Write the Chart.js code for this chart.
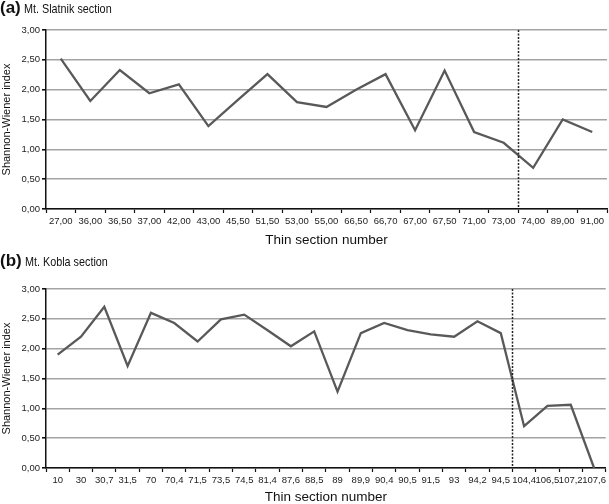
<!DOCTYPE html>
<html>
<head>
<meta charset="utf-8">
<script src="https://cdn.jsdelivr.net/npm/chart.js@4/dist/chart.umd.min.js"></script>
<style>
  html, body { margin: 0; padding: 0; background: #fff; }
  body { width: 609px; height: 504px; position: relative; overflow: hidden; font-family: "Liberation Sans", Arial, sans-serif; }
  .panel { position: absolute; left: 0; width: 609px; height: 252px; }
  .panel canvas { display: block; }
  .head { position: absolute; left: 0; white-space: nowrap; color: #111; }
  .head b { font-size: 17px; font-weight: bold; }
  .head span { font-size: 13.5px; display: inline-block; transform: scaleX(0.8); transform-origin: left center; margin-left: 3px; }
</style>
</head>
<body>
<div class="panel" style="top:0"><canvas id="chartA" width="609" height="252"></canvas></div>
<div class="panel" style="top:252px"><canvas id="chartB" width="609" height="252"></canvas></div>
<div class="head" style="top:-2px"><b>(a)</b><span>Mt. Slatnik section</span></div>
<div class="head" style="top:251px"><b>(b)</b><span>Mt. Kobla section</span></div>

<script>
// ---- data ----
const catsA = ["27,00", "36,00", "36,50", "37,00", "42,00", "43,00", "45,50", "51,50", "53,00", "55,00",
               "66,50", "66,70", "67,00", "67,50", "71,00", "73,00", "74,00", "89,00", "91,00"];
const valsA = [2.52, 1.81, 2.33, 1.94, 2.09, 1.39, 1.83, 2.26, 1.79, 1.71,
               2.00, 2.26, 1.32, 2.32, 1.29, 1.11, 0.69, 1.50, 1.29];

const catsB = ["10", "30", "30,7", "31,5", "70", "70,4", "71,5", "73,5", "74,5", "81,4", "87,6", "88,5",
               "89", "89,9", "90,4", "90,5", "91,5", "93", "94,2", "94,5", "104,4", "106,5", "107,2", "107,6"];
const valsB = [1.90, 2.20, 2.70, 1.71, 2.60, 2.43, 2.12, 2.49, 2.57, 2.31, 2.04, 2.29,
               1.28, 2.26, 2.43, 2.31, 2.24, 2.20, 2.46, 2.26, 0.70, 1.04, 1.06, 0.00];

const yTickLabels = ["0,00", "0,50", "1,00", "1,50", "2,00", "2,50", "3,00"];
const yTitle = "Shannon-Wiener index";
const xTitle = "Thin section number";

// dashed divider sits after this category (boundary to the next one)
const splitA = "73,00";
const splitB = "94,5";

/* ---- dashed vertical divider ---- */
const dividerPlugin = {
    id: "divider",
    afterDatasetsDraw(chart, args, opts) {
        const x = chart.scales.x;
        const i = chart.data.labels.indexOf(opts.after);
        if (i < 0) return;
        const px = (x.getPixelForValue(i) + x.getPixelForValue(i + 1)) / 2;
        const { top, bottom } = chart.chartArea;
        const c = chart.ctx;
        c.save();
        c.strokeStyle = "#222";
        c.lineWidth = 1.5;
        c.setLineDash([2, 1.5]);
        c.beginPath();
        c.moveTo(Math.round(px) + 0.5, top);
        c.lineTo(Math.round(px) + 0.5, bottom);
        c.stroke();
        c.restore();
    },
};

function makeChart(id, labels, values, split, pad, xHeight) {
    return new Chart(document.getElementById(id), {
        type: "line",
        data: {
            labels,
            datasets: [{
                data: values,
                borderColor: "#595959",
                borderWidth: 2.3,
                pointRadius: 0,
                tension: 0,
                fill: false,
            }],
        },
        options: {
            responsive: false,
            animation: false,
            layout: { padding: pad },
            plugins: {
                legend: { display: false },
                tooltip: { enabled: false },
                divider: { after: split },
            },
            scales: {
                x: {
                    offset: true,
                    afterFit: (s) => { s.height = xHeight; },
                    grid: {
                        offset: true,
                        drawOnChartArea: false,
                        drawTicks: true,
                        tickLength: 4,
                        tickColor: "#111",
                        tickWidth: 1.2,
                    },
                    border: { color: "#111", width: 1.5 },
                    ticks: {
                        autoSkip: false,
                        maxRotation: 0,
                        minRotation: 0,
                        padding: 3,
                        color: "#222",
                        font: { family: "Liberation Sans", size: 9.5 },
                    },
                    title: {
                        display: true,
                        text: xTitle,
                        color: "#111",
                        padding: 0,
                        font: { family: "Liberation Sans", size: 13.5, lineHeight: 1 },
                    },
                },
                y: {
                    min: 0,
                    max: 3,
                    afterFit: (s) => { s.width = 46; },
                    grid: {
                        color: "#a3a3a3",
                        lineWidth: 1.6,
                        drawTicks: true,
                        tickLength: 4,
                        tickColor: "#111",
                    },
                    border: { color: "#111", width: 1.5 },
                    ticks: {
                        stepSize: 0.5,
                        padding: 2,
                        color: "#222",
                        font: { family: "Liberation Sans", size: 9.5 },
                        callback: (v) => yTickLabels[Math.round(v * 2)],
                    },
                    title: {
                        display: true,
                        text: yTitle,
                        color: "#111",
                        padding: { top: 0, bottom: 2 },
                        font: { family: "Liberation Sans", size: 11 },
                    },
                },
            },
        },
        plugins: [dividerPlugin],
    });
}

makeChart("chartA", catsA, valsA, splitA, { top: 30, right: 2, bottom: 5, left: 0 }, 38);
makeChart("chartB", catsB, valsB, splitB, { top: 37, right: 2, bottom: 0, left: 0 }, 36);
</script>
</body>
</html>
